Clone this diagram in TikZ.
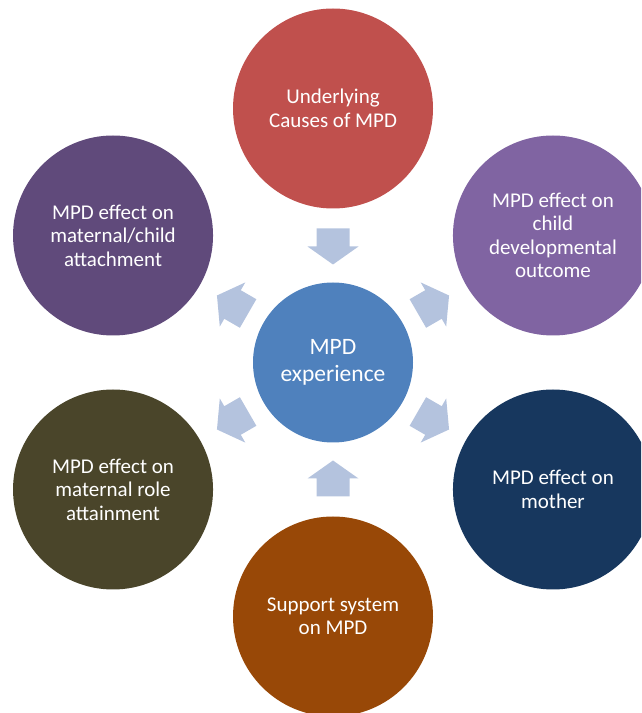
\documentclass[tikz,border=0pt]{standalone}
\usepackage{fontspec}
\setmainfont{Carlito}
\usetikzlibrary{calc}

\definecolor{hubblue}{HTML}{4F81BD}
\definecolor{causered}{HTML}{C0504D}
\definecolor{childpurple}{HTML}{8064A2}
\definecolor{motherblue}{HTML}{17375E}
\definecolor{supportbrown}{HTML}{984807}
\definecolor{roleolive}{HTML}{4A452A}
\definecolor{attachplum}{HTML}{604A7B}
\definecolor{arrowblue}{HTML}{B4C3DE}

\begin{document}
\begin{tikzpicture}[x=1pt,y=1pt,
  bubble/.style={circle, minimum size=200pt, inner sep=0pt, text=white,
    align=center, font=\fontsize{21}{23.5}\selectfont},
  hub/.style={circle, fill=hubblue, minimum size=160pt, inner sep=0pt,
    text=white, align=center, font=\fontsize{23.5}{27}\selectfont},
  flow/.style={fill=arrowblue}]
\useasboundingbox (0,0) rectangle (641,713);
\clip (0,0) rectangle (641,713);

\coordinate (c) at (333,350.5);

% outer topics, evenly spaced around the hub
\node[bubble, fill=causered]     (causes)  at ($(c)+(90:254)$)  {Underlying\\Causes of MPD};
\node[bubble, fill=childpurple]  (child)   at ($(c)+(30:254)$)  {MPD effect on\\child\\developmental\\outcome};
\node[bubble, fill=motherblue]   (mother)  at ($(c)+(-30:254)$) {MPD effect on\\mother};
\node[bubble, fill=supportbrown] (support) at ($(c)+(-90:254)$) {Support system\\on MPD};
\node[bubble, fill=roleolive]    (role)    at ($(c)+(210:254)$) {MPD effect on\\maternal role\\attainment};
\node[bubble, fill=attachplum]   (attach)  at ($(c)+(150:254)$) {MPD effect on\\maternal/child\\attachment};

% central hub
\node[hub] (hub) at (c) {MPD\\experience};

% block arrows: inward from top and bottom, outward on the diagonals
\foreach \ang/\dir in {90/270, 270/90, 30/30, 150/150, 210/210, 330/330}{
  \begin{scope}[shift={($(c)+(\ang:116)$)}, rotate=\dir]
    \fill[flow] (-18,-16.5) -- (0,-16.5) -- (0,-25.5) -- (18,0)
      -- (0,25.5) -- (0,16.5) -- (-18,16.5) -- cycle;
  \end{scope}
}
\end{tikzpicture}
\end{document}
